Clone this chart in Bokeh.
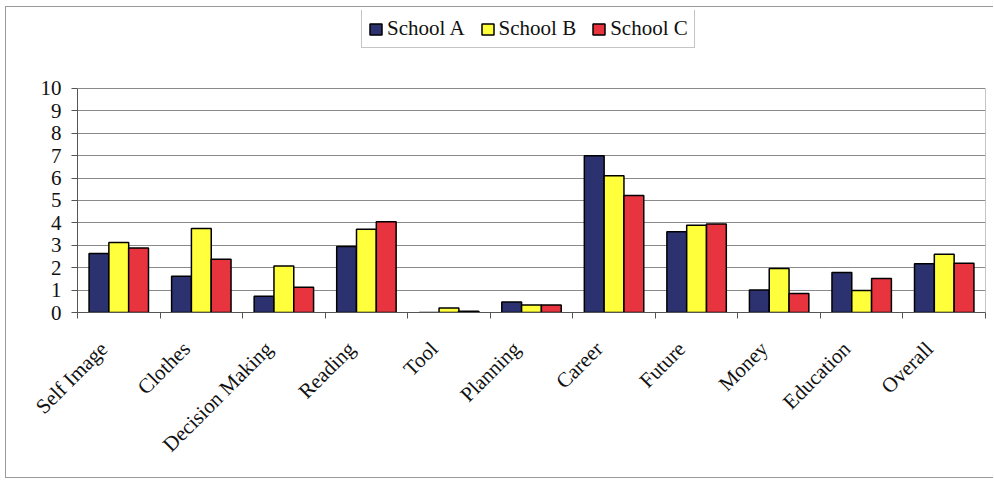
import math
from bokeh.plotting import figure
from bokeh.models import ColumnDataSource, Range1d, FixedTicker, Legend, LegendItem
from bokeh.transform import dodge
from bokeh.embed import file_html
from bokeh.resources import INLINE

# Survey topics and mean scores per school
categories = ["Self Image", "Clothes", "Decision Making", "Reading", "Tool",
              "Planning", "Career", "Future", "Money", "Education", "Overall"]
school_a = [2.63, 1.62, 0.72, 2.95, 0.0, 0.47, 7.0, 3.6, 1.0, 1.78, 2.18]
school_b = [3.12, 3.75, 2.08, 3.72, 0.2, 0.33, 6.1, 3.9, 1.96, 0.98, 2.6]
school_c = [2.88, 2.38, 1.13, 4.05, 0.06, 0.33, 5.22, 3.95, 0.85, 1.52, 2.2]
series_names = ["School A", "School B", "School C"]
y_ticks = [0, 1, 2, 3, 4, 5, 6, 7, 8, 9, 10]

colors = ["#2C3270", "#FFFF3C", "#E8343E"]
serif = "Liberation Serif"
font_px = "21px"
box_color = "#8a8a8a"

x_pos = list(range(1, len(categories) + 1))
x_lo, x_hi = 0.5, len(categories) + 0.5
y_lo, y_hi = y_ticks[0], y_ticks[-1]
source = ColumnDataSource(dict(x=x_pos, a=school_a, b=school_b, c=school_c))

# the frame reaches up to the top so that the legend can sit above the value box
p = figure(width=988, height=472, output_backend="svg", toolbar_location=None,
           x_range=Range1d(x_lo, x_hi), y_range=Range1d(y_lo, 13.48),
           min_border_left=71, min_border_right=9, min_border_top=3,
           min_border_bottom=167, margin=(6, 0, 0, 5),
           background_fill_color="white", border_fill_color="white")
p.styles = {"border-top": "1px solid #9a9a9a", "border-left": "1px solid #9a9a9a",
            "border-bottom": "1px solid #9a9a9a", "border-right": "none"}
p.outline_line_color = None

bar_w = 0.24
offsets = [-bar_w, 0.0, bar_w]
renderers = []
for col, off, color in zip(["a", "b", "c"], offsets, colors):
    r = p.vbar(x=dodge("x", off), top=col, width=bar_w, source=source,
               fill_color=color, line_color="black", line_width=1.5)
    renderers.append(r)

# right edge of the value box (top edge is the gridline at the last tick)
p.segment(x0=[x_hi], y0=[y_lo], x1=[x_hi], y1=[y_hi], line_color=box_color, line_width=1)

# category axis: labels at group centres, tick marks between groups;
# trailing no-break spaces slide each slanted label down along its baseline
pad = "\u00a0" * 4
xa = p.xaxis[0]
xa.ticker = FixedTicker(ticks=x_pos,
                        minor_ticks=[i + 0.5 for i in range(0, len(categories) + 1)])
xa.major_label_overrides = {i: c + pad for i, c in zip(x_pos, categories)}
xa.major_label_orientation = math.pi / 4
xa.major_tick_out = 0
xa.major_tick_in = 0
xa.minor_tick_out = 6
xa.minor_tick_in = 0
xa.minor_tick_line_color = "#555555"
xa.axis_line_color = "#555555"
xa.major_label_text_font = serif
xa.major_label_text_font_size = font_px
xa.major_label_text_color = "#111111"
xa.major_label_standoff = 12

ya = p.yaxis[0]
ya.ticker = FixedTicker(ticks=y_ticks)
ya.bounds = (y_lo, y_hi)
ya.major_tick_out = 6
ya.major_tick_in = 0
ya.minor_tick_out = 0
ya.minor_tick_in = 0
ya.major_tick_line_color = "#555555"
ya.axis_line_color = "#555555"
ya.major_label_text_font = serif
ya.major_label_text_font_size = font_px
ya.major_label_text_color = "#111111"
ya.major_label_standoff = 10

p.xgrid.grid_line_color = None
p.ygrid.grid_line_color = box_color
p.ygrid.ticker = FixedTicker(ticks=y_ticks)

legend = Legend(items=[LegendItem(label=n, renderers=[r])
                       for n, r in zip(series_names, renderers)],
                orientation="horizontal", location=(284, 264),
                label_text_font=serif, label_text_font_size=font_px,
                label_text_color="#111111",
                glyph_width=15, glyph_height=14, label_standoff=4, spacing=15,
                padding=6, margin=0, border_line_color=box_color,
                background_fill_color="white", background_fill_alpha=1.0)
p.add_layout(legend, "center")

open("out.html", "w").write(file_html(p, INLINE))
